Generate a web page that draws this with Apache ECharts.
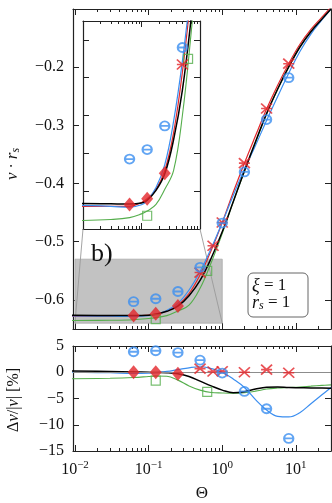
<!DOCTYPE html>
<html>
<head>
<meta charset="utf-8">
<script src="https://cdn.jsdelivr.net/npm/echarts@6/dist/echarts.min.js"></script>
<style>
html, body { margin: 0; padding: 0; background: #fff; }
#chart { width: 332px; height: 503px; }
</style>
</head>
<body>
<div id="chart"></div>
<script>
// sample points of the curves (Theta)
const theta = [0.009, 0.03, 0.0625, 0.1, 0.125, 0.177, 0.25, 0.354, 0.5, 0.707, 1, 1.41, 2, 2.83, 4, 5.66, 8, 11.3, 16, 22.6, 30];
// v * r_s, upper panel
const vBlack = [-0.6265, -0.6267, -0.6268, -0.6262, -0.6248, -0.6196, -0.6108, -0.5927, -0.5665, -0.5284, -0.4829, -0.4312, -0.3785, -0.3282, -0.2798, -0.2375, -0.1996, -0.1657, -0.1391, -0.1174, -0.1000];
const vRed = [-0.628, -0.628, -0.628, -0.626, -0.624, -0.619, -0.609, -0.589, -0.557, -0.515, -0.467, -0.415, -0.365, -0.318, -0.272, -0.231, -0.194, -0.161, -0.135, -0.114, -0.097];
const vBlue = [-0.6275, -0.628, -0.6285, -0.6272, -0.625, -0.6181, -0.606, -0.583, -0.5512, -0.5114, -0.467, -0.4204, -0.3756, -0.3345, -0.2916, -0.2504, -0.2105, -0.1734, -0.1431, -0.1189, -0.0998];
const vGreen = [-0.6355, -0.635, -0.634, -0.632, -0.6305, -0.627, -0.619, -0.609, -0.580, -0.536, -0.486, -0.4316, -0.3792, -0.3294, -0.2807, -0.2379, -0.1996, -0.1655, -0.1386, -0.1169, -0.0993];
// delta v / |v| in %, lower panel
const dBlack = [0.25, 0.15, 0.05, 0, -0.05, -0.1, -0.3, -0.8, -1.7, -2.6, -3.4, -3.9, -3.7, -3.2, -2.85, -2.8, -2.9, -2.95, -3.0, -3.0, -3.05];
const dBlue = [0.0, -0.1, -0.2, -0.15, -0.05, 0.15, 0.5, 0.85, 1.05, 0.7, 0.0, -1.3, -2.9, -5.2, -7.2, -8.4, -8.5, -7.7, -6.0, -4.3, -2.9];
const dGreen = [-1.25, -1.15, -1.0, -0.8, -0.7, -0.75, -1.5, -2.6, -3.4, -3.85, -3.95, -4.0, -3.9, -3.6, -3.2, -3.0, -2.9, -2.8, -2.65, -2.5, -2.4];

// data points
const thetaCirc = [0.0625, 0.125, 0.25, 0.5, 1, 2, 4, 8];
const vCirc = [-0.603, -0.598, -0.5855, -0.544, -0.468, -0.380, -0.290, -0.218];
const dCirc = [3.9, 4.1, 3.75, 2.3, -0.15, -3.65, -6.95, -12.6];
const thetaDiam = [0.0625, 0.125, 0.25];
const vDiam = [-0.627, -0.624, -0.6105];
const dDiam = [0, 0, -0.3];
const thetaCross = [0.5, 0.75, 1, 2, 4, 8];
const vCross = [-0.553, -0.507, -0.467, -0.365, -0.271, -0.194];
const dCross = [0.7, 0.15, 0.2, 0, 0.5, -0.1];
const thetaSq = [0.125, 0.625];
const vSq = [-0.633, -0.550];
const dSq = [-1.6, -3.75];

const RED = '#e3262b', BLUE = '#3b8ef0', GREEN = '#55ae4c', INK = '#222';
const FONT = 'Liberation Serif';

const zip = (xs, ys) => xs.map((x, i) => [x, ys[i]]);

// tick positions for log axes
const majors = [0.01, 0.1, 1, 10];
const minors = [];
[0.01, 0.1, 1, 10].forEach(d => { for (let k = 2; k <= 9; k++) minors.push(+(d * k).toPrecision(3)); });
const inRange = (arr, lo, hi) => arr.filter(v => v >= lo && v <= hi);

const lineStyle = { color: INK, width: 1.2 };

function xAxes(grid, min, max, labels) {
    const base = { type: 'log', logBase: 10, gridIndex: grid, min: min, max: max, splitLine: { show: false } };
    const maj = inRange(majors, min, max), mn = inRange(minors, min, max);
    return [
        Object.assign({}, base, {
            position: 'bottom',
            axisLine: { show: true, onZero: false, lineStyle: lineStyle },
            axisTick: { show: true, inside: true, length: 6, customValues: maj, lineStyle: { color: INK } },
            axisLabel: labels ? {
                show: true, margin: 9, customValues: maj,
                formatter: v => {
                    const e = Math.round(Math.log10(v));
                    return '{b|10}{e|' + (e < 0 ? '\u2212' : '') + Math.abs(e) + '}';
                },
                rich: {
                    b: { fontFamily: FONT, fontSize: 16, color: '#111' },
                    e: { fontFamily: FONT, fontSize: 11, color: '#111', padding: [0, 0, 9, 0] }
                }
            } : { show: false },
            name: labels ? '\u0398' : '',
            nameLocation: 'middle', nameGap: 34,
            nameTextStyle: { fontFamily: FONT, fontSize: 17, color: '#111' }
        }),
        Object.assign({}, base, {
            position: 'bottom', axisLine: { show: false, onZero: false },
            axisTick: { show: true, inside: true, length: 3, customValues: mn, lineStyle: { color: INK } },
            axisLabel: { show: false }
        }),
        Object.assign({}, base, {
            position: 'top', axisLine: { show: true, onZero: false, lineStyle: lineStyle },
            axisTick: { show: true, inside: true, length: 6, customValues: maj, lineStyle: { color: INK } },
            axisLabel: { show: false }
        }),
        Object.assign({}, base, {
            position: 'top', axisLine: { show: false, onZero: false },
            axisTick: { show: true, inside: true, length: 3, customValues: mn, lineStyle: { color: INK } },
            axisLabel: { show: false }
        })
    ];
}

function yAxes(grid, min, max, ticks, fmt) {
    const base = { type: 'value', gridIndex: grid, min: min, max: max, splitLine: { show: false } };
    return [
        Object.assign({}, base, {
            position: 'left',
            axisLine: { show: true, onZero: false, lineStyle: lineStyle },
            axisTick: { show: true, inside: true, length: 6, customValues: ticks, lineStyle: { color: INK } },
            axisLabel: fmt ? { show: true, margin: 9, customValues: ticks, formatter: fmt,
                fontFamily: FONT, fontSize: 16, color: '#111' } : { show: false }
        }),
        Object.assign({}, base, {
            position: 'right',
            axisLine: { show: true, onZero: false, lineStyle: lineStyle },
            axisTick: { show: true, inside: true, length: 6, customValues: ticks, lineStyle: { color: INK } },
            axisLabel: { show: false }
        })
    ];
}

const CIRC = 'path://M0,5A5,5,0,1,1,10,5A5,5,0,1,1,0,5ZM-1,5L11,5';
const CROSS = 'path://M0,0L10,10M0,10L10,0M0,5L10,5';

function lines(xi, yi, blk, red, blu, grn) {
    const s = [];
    const mk = (data, color, w, z) => ({
        type: 'line', xAxisIndex: xi, yAxisIndex: yi, data: data, showSymbol: false, smooth: 0.4,
        lineStyle: { color: color, width: w }, itemStyle: { color: color }, z: z, silent: true
    });
    if (grn) s.push(mk(zip(theta, grn), GREEN, 1.1, 3));
    if (red) s.push(mk(zip(theta, red), RED, 1.2, 3));
    if (blu) s.push(mk(zip(theta, blu), BLUE, 1.2, 3));
    if (blk) s.push(mk(zip(theta, blk), '#000', 1.5, 3));
    return s;
}

function points(xi, yi, c, d, x, sq) {
    const base = { type: 'scatter', xAxisIndex: xi, yAxisIndex: yi, z: 5, silent: true };
    return [
        Object.assign({}, base, { data: zip(thetaSq, sq), symbol: 'rect', symbolSize: 9,
            itemStyle: { color: 'transparent', borderColor: GREEN, borderWidth: 1.2 } }),
        Object.assign({}, base, { data: zip(thetaDiam, d), symbol: 'diamond', symbolSize: [12, 14],
            itemStyle: { color: RED } }),
        Object.assign({}, base, { data: zip(thetaCross, x), symbol: CROSS, symbolSize: [11, 10],
            itemStyle: { color: 'transparent', borderColor: RED, borderWidth: 1.7 } }),
        Object.assign({}, base, { data: zip(thetaCirc, c), symbol: CIRC, symbolSize: [11, 9],
            itemStyle: { color: 'transparent', borderColor: BLUE, borderWidth: 2 } })
    ];
}

const chart = echarts.init(document.getElementById('chart'));

const option = {
    animation: false,
    backgroundColor: '#fff',
    textStyle: { fontFamily: FONT },
    grid: [
        { left: 73, top: 9, width: 258, height: 320 },
        { left: 83, top: 21, width: 117, height: 208 },
        { left: 73, top: 346, width: 258, height: 106 }
    ],
    xAxis: [].concat(
        xAxes(0, 0.0094, 30, false),
        xAxes(1, 0.01, 1, false),
        xAxes(2, 0.0094, 30, true)
    ),
    yAxis: [].concat(
        yAxes(0, -0.65, -0.1, [-0.6, -0.5, -0.4, -0.3, -0.2], v => v.toFixed(1).replace('-', '\u2212')),
        yAxes(1, -0.64, -0.53, [-0.62, -0.60, -0.58, -0.56, -0.54], null),
        yAxes(2, -15, 5, [-15, -10, -5, 0, 5], v => String(v).replace('-', '\u2212'))
    ),
    series: [].concat(
        lines(0, 0, vBlack, vRed, vBlue, vGreen),
        points(0, 0, vCirc, vDiam, vCross, vSq),
        lines(4, 2, vBlack, vRed, vBlue, vGreen),
        points(4, 2, vCirc, vDiam, vCross, vSq),
        [{
            type: 'line', xAxisIndex: 8, yAxisIndex: 4, data: [], silent: true, z: 2,
            markLine: { silent: true, symbol: 'none', label: { show: false },
                lineStyle: { color: '#8c8c8c', width: 1, type: 'solid' },
                data: [{ yAxis: 0 }] }
        }],
        lines(8, 4, dBlack, null, dBlue, dGreen),
        points(8, 4, dCirc, dDiam, dCross, dSq)
    )
};
chart.setOption(option);

// inset indicator box and connectors, placed through the axes
const P = pt => chart.convertToPixel({ xAxisIndex: 0, yAxisIndex: 0 }, pt);
const Q = pt => chart.convertToPixel({ xAxisIndex: 4, yAxisIndex: 2 }, pt);
const bTL = P([0.01, -0.53]), bBR = P([1, -0.64]), bBL = P([0.01, -0.64]);
const iBL = Q([0.01, -0.64]), iBR = Q([1, -0.64]);

chart.setOption({
    graphic: [
        { type: 'rect', z: 1, silent: true,
          shape: { x: bTL[0], y: bTL[1], width: bBR[0] - bTL[0], height: bBR[1] - bTL[1] },
          style: { fill: '#c2c2c2', stroke: '#aaa', lineWidth: 0.8 } },
        { type: 'line', z: 1, silent: true,
          shape: { x1: bBL[0], y1: bBL[1], x2: iBL[0], y2: iBL[1] },
          style: { stroke: '#9a9a9a', lineWidth: 0.9 } },
        { type: 'line', z: 1, silent: true,
          shape: { x1: bBR[0], y1: bBR[1], x2: iBR[0], y2: iBR[1] },
          style: { stroke: '#9a9a9a', lineWidth: 0.9 } },
        { type: 'text', z: 10, x: 91, y: 241, silent: true,
          style: { text: 'b)', font: '26px "Liberation Serif"', fill: '#111' } },
        { type: 'text', z: 10, x: 13, y: 164, rotation: Math.PI / 2, silent: true,
          style: { text: '{i|v} · {i|r}{s|s}', fill: '#111', align: 'center', verticalAlign: 'middle',
            font: '16px "Liberation Serif"',
            rich: { i: { fontFamily: FONT, fontStyle: 'italic', fontSize: 17 },
                    s: { fontFamily: FONT, fontStyle: 'italic', fontSize: 12, padding: [6, 0, 0, 0] } } } },
        { type: 'text', z: 10, x: 14, y: 400, rotation: Math.PI / 2, silent: true,
          style: { text: '\u0394{i|v}/|{i|v}| [%]', fill: '#111', align: 'center', verticalAlign: 'middle',
            font: '16px "Liberation Serif"',
            rich: { i: { fontFamily: FONT, fontStyle: 'italic', fontSize: 17 } } } },
        { type: 'rect', z: 10, silent: true,
          shape: { x: 248, y: 273, width: 60, height: 44, r: 5 },
          style: { fill: '#fff', stroke: '#666', lineWidth: 1 } },
        { type: 'text', z: 11, x: 252, y: 286, silent: true,
          style: { text: '{i|\u03be} = 1', fill: '#111', verticalAlign: 'middle', font: '17px "Liberation Serif"',
            rich: { i: { fontFamily: FONT, fontStyle: 'italic', fontSize: 18 } } } },
        { type: 'text', z: 11, x: 252, y: 303, silent: true,
          style: { text: '{i|r}{s|s} = 1', fill: '#111', verticalAlign: 'middle', font: '17px "Liberation Serif"',
            rich: { i: { fontFamily: FONT, fontStyle: 'italic', fontSize: 18 },
                    s: { fontFamily: FONT, fontStyle: 'italic', fontSize: 12, padding: [6, 0, 0, 0] } } } }
    ]
});
</script>
</body>
</html>
